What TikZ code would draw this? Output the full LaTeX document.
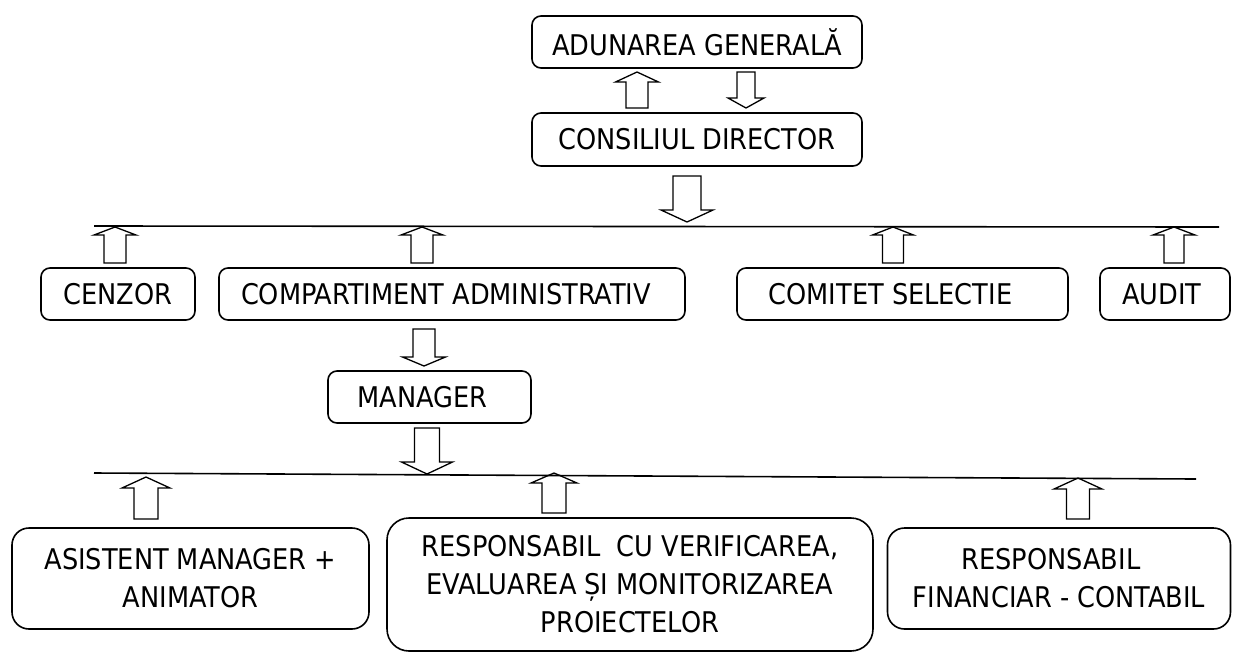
\documentclass[tikz,border=0pt]{standalone}
\usepackage{fontspec}
\setmainfont{DejaVu Sans Condensed}
\newcommand\blockarr[6]{% cx, tip y, head base y, tail y, shaft half, head half
  \draw[blockarrow] (#1,#2) -- (#1+#6,#3) -- (#1+#5,#3) -- (#1+#5,#4) -- (#1-#5,#4) -- (#1-#5,#3) -- (#1-#6,#3) -- cycle;}
\begin{document}
\begin{tikzpicture}[x=1pt,y=-1pt,
  box/.style={draw, line width=1.6pt, rounded corners=9pt, inner sep=0pt, align=center,
    font=\fontsize{28.5}{38}\selectfont},
  bigbox/.style={box, rounded corners=17pt},
  blockarrow/.style={draw, line width=1.3pt, line join=miter},
  hline/.style={line width=1.6pt}]
\useasboundingbox (0,0) rectangle (1233,654);

% boxes
\node[box, minimum width=330pt, minimum height=52pt] (ag) at (697,42) {ADUNAREA GENERALĂ};
\node[box, minimum width=330pt, minimum height=53pt] (cd) at (697,139.5) {CONSILIUL DIRECTOR};
\node[box, minimum width=154pt, minimum height=52pt] (cenzor) at (118,294) {CENZOR};
\node[box, minimum width=466pt, minimum height=52pt] (ca) at (452,294) {COMPARTIMENT ADMINISTRATIV\hspace*{12pt}};
\node[box, minimum width=331pt, minimum height=52pt] (cs) at (902.5,294) {COMITET SELECTIE\hspace*{24pt}};
\node[box, minimum width=130pt, minimum height=52pt] (audit) at (1165,294) {AUDIT\hspace*{6pt}};
\node[box, minimum width=203pt, minimum height=52pt] (manager) at (429.5,397) {MANAGER\hspace*{14pt}};
\node[bigbox, minimum width=357pt, minimum height=101pt] (asist) at (190.5,578.5) {ASISTENT MANAGER +\\ANIMATOR};
\node[bigbox, rounded corners=22pt, minimum width=486pt, minimum height=133pt] (resp) at (630,584.5) {RESPONSABIL\ \ CU VERIFICAREA,\\EVALUAREA ȘI MONITORIZAREA\\PROIECTELOR};
\node[bigbox, minimum width=343pt, minimum height=101pt] (fin) at (1059,578.5) {RESPONSABIL\hspace*{16pt}\\FINANCIAR - CONTABIL};

% horizontal lines
\coordinate (l1a) at (94,226);
\coordinate (l1b) at (1219,227);
\coordinate (l2a) at (94,473);
\coordinate (l2b) at (1196,479);
\draw[hline] (l1a) -- (l1b);
\draw[hline] (l2a) -- (l2b);

% block arrows
\blockarr{637}{72}{82}{108}{11}{21.5}
\blockarr{746}{108}{98}{72}{9}{18}
\blockarr{687}{222}{210}{176}{14}{26}
\blockarr{115}{227}{235}{263}{11}{21}
\blockarr{422}{227}{235}{263}{11}{21}
\blockarr{893}{227}{235}{263}{10.5}{20.5}
\blockarr{1174}{227}{235}{263}{10}{21}
\blockarr{424}{366}{357}{329}{11}{21.5}
\blockarr{427}{474}{462}{428}{12.5}{25.5}
\blockarr{146}{477}{488}{519}{12}{24}
\blockarr{554}{473}{483}{513}{12}{23}
\blockarr{1078}{478}{489}{519}{11.5}{24}
\end{tikzpicture}
\end{document}
